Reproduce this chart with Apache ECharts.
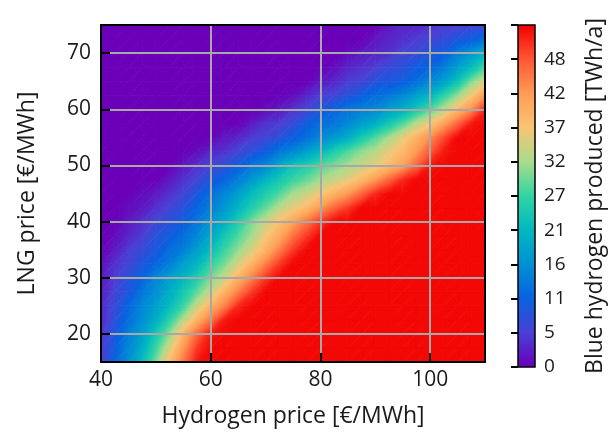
<!DOCTYPE html>
<html><head><meta charset="utf-8">
<script src="https://cdn.jsdelivr.net/npm/echarts@6/dist/echarts.min.js"></script>
<style>html,body{margin:0;padding:0;background:#fff}#c{width:610px;height:433px}</style>
</head><body><div id="c"></div>
<script>
// Grid nodes: hydrogen price [€/MWh]
const hydrogenPrice = [40,42.5,45,47.5,50,52.5,55,57.5,60,62.5,65,67.5,70,72.5,75,77.5,80,82.5,85,87.5,90,
  92.5,95,97.5,100,102.5,105,107.5,110];
// Grid nodes: LNG price [€/MWh]
const lngPrice = [15,17.5,20,22.5,25,27.5,30,32.5,35,37.5,40,42.5,45,47.5,50,52.5,55,57.5,60,62.5,65,67.5,70,72.5,75];
// Blue hydrogen produced [TWh/a], one row per LNG price (bottom to top), one value per hydrogen price
const lng15   = [5,11,16,22,30,39,46, 52,53,53,53,53,53,53, 53,53,53,53,53,53,53, 53,53,53,53,53,53,53,53];
const lng17_5 = [5,10,15,20,27,35,43, 50,53,53,53,53,53,53, 53,53,53,53,53,53,53, 53,53,53,53,53,53,53,53];
const lng20   = [4,9,14,18,24,31,40, 47,52,53,53,53,53,53, 53,53,53,53,53,53,53, 53,53,53,53,53,53,53,53];
const lng22_5 = [3,8,12,16,20,26,33, 40,46,52,53,53,53,53, 53,53,53,53,53,53,53, 53,53,53,53,53,53,53,53];
const lng25   = [3,7,11,15,18,22,27, 34,40,45,51,53,53,53, 53,53,53,53,53,53,53, 53,53,53,53,53,53,53,53];
const lng27_5 = [2,6,9,13,16,20,24, 29,34,40,45,50,53,53, 53,53,53,53,53,53,53, 53,53,53,53,53,53,53,53];
const lng30   = [2,5,8,11,15,18,21, 25,30,34,40,45,50,53, 53,53,53,53,53,53,53, 53,53,53,53,53,53,53,53];
const lng32_5 = [1,4,6,9,11,14,18, 21,26,30,35,40,45,50, 53,53,53,53,53,53,53, 53,53,53,53,53,53,53,53];
const lng35   = [0,2,5,7,9,12,14, 18,22,27,31,35,40,45, 50,53,53,53,53,53,53, 53,53,53,53,53,53,53,53];
const lng37_5 = [0,1,3,5,8,10,12, 15,19,24,28,32,37,41, 46,50,53,53,53,53,53, 53,53,53,53,53,53,53,53];
const lng40   = [0,0,2,4,6,8,10, 13,17,20,25,30,34,38, 42,46,50,53,53,53,53, 53,53,53,53,53,53,53,53];
const lng42_5 = [0,0,1,2,4,6,8, 11,14,17,21,25,29,33, 36,39,43,47,50,53,53, 53,53,53,53,53,53,53,53];
const lng45   = [0,0,0,1,2,4,6, 9,12,15,18,22,25,28, 32,34,37,40,43,47,51, 53,53,53,53,53,53,53,53];
const lng47_5 = [0,0,0,0,0,2,4, 6,9,11,14,17,21,24, 27,29,32,34,36,39,43, 47,51,53,53,53,53,53,53];
const lng50   = [0,0,0,0,0,0,2, 4,6,8,10,13,15,19, 23,25,28,30,32,34,36, 39,42,47,52,53,53,53,53];
const lng52_5 = [0,0,0,0,0,0,0, 1,3,4,6,8,10,13, 15,18,21,25,28,31,33, 36,39,43,48,52,53,53,53];
const lng55   = [0,0,0,0,0,0,0, 0,0,2,3,5,6,8, 10,12,15,17,20,24,28, 32,36,40,44,49,53,53,53];
const lng57_5 = [0,0,0,0,0,0,0, 0,0,0,0,2,4,5, 7,10,12,13,15,18,20, 24,28,33,37,42,47,52,53];
const lng60   = [0,0,0,0,0,0,0, 0,0,0,0,0,1,2, 4,6,9,11,13,14,15, 18,20,24,28,33,39,44,51];
const lng62_5 = [0,0,0,0,0,0,0, 0,0,0,0,0,0,0, 1,3,5,6,8,10,12, 13,15,18,21,26,31,37,43];
const lng65   = [0,0,0,0,0,0,0, 0,0,0,0,0,0,0, 0,0,2,3,5,6,8, 9,10,12,15,18,23,30,35];
const lng67_5 = [0,0,0,0,0,0,0, 0,0,0,0,0,0,0, 0,0,0,1,3,4,5, 7,8,10,11,14,18,22,27];
const lng70   = [0,0,0,0,0,0,0, 0,0,0,0,0,0,0, 0,0,0,0,1,2,3, 4,6,7,9,10,14,17,21];
const lng72_5 = [0,0,0,0,0,0,0, 0,0,0,0,0,0,0, 0,0,0,0,0,0,2, 3,4,5,6,7,9,10,12];
const lng75   = [0,0,0,0,0,0,0, 0,0,0,0,0,0,0, 0,0,0,0,0,0,0, 2,3,3,4,5,5,6,7];
const rows = [lng15,lng17_5,lng20,lng22_5,lng25,lng27_5,lng30,lng32_5,lng35,lng37_5,lng40,lng42_5,lng45,
  lng47_5,lng50,lng52_5,lng55,lng57_5,lng60,lng62_5,lng65,lng67_5,lng70,lng72_5,lng75];

const xTicks = [40,60,80,100];
const yTicks = [20,30,40,50,60,70];
const colorbarLabels = ['0','5','11','16','21','27','32','37','42','48'];
const colorMax = 53.5;
const palette = ['#6a00b8','#4a40d4','#0862e0','#0090d4','#00b8c0','#30d4a4','#a8dc8c','#f8c474','#ff9c54','#ff5636','#f20000'];

// colour scale (palette knots evenly spread over 0..colorMax)
const knots = palette.map((c, k) => k * colorMax / (palette.length - 1));
const rgb = palette.map(h => [parseInt(h.slice(1,3),16), parseInt(h.slice(3,5),16), parseInt(h.slice(5,7),16)]);
function colorOf(v) {
  v = Math.max(0, Math.min(colorMax, v));
  let k = Math.min(palette.length - 2, Math.floor(v / (colorMax / (palette.length - 1))));
  const t = (v - knots[k]) / (knots[k + 1] - knots[k]);
  const c = rgb[k].map((a, n) => Math.round(a + (rgb[k + 1][n] - a) * t));
  return 'rgb(' + c.join(',') + ')';
}
function triFill(P, V) {
  const vmin = Math.min(V[0], V[1], V[2]), vmax = Math.max(V[0], V[1], V[2]);
  if (vmax - vmin < 1e-6) return colorOf(vmin);
  const [x1, y1] = P[0], [x2, y2] = P[1], [x3, y3] = P[2];
  const d = (x2 - x1) * (y3 - y1) - (x3 - x1) * (y2 - y1);
  const a = ((V[1] - V[0]) * (y3 - y1) - (V[2] - V[0]) * (y2 - y1)) / d;
  const b = ((x2 - x1) * (V[2] - V[0]) - (x3 - x1) * (V[1] - V[0])) / d;
  const g2 = a * a + b * b;
  const m = V.indexOf(vmin);
  const S = P[m];
  const s = (vmax - vmin) / g2;
  const E = [S[0] + a * s, S[1] + b * s];
  const cs = [{offset: 0, color: colorOf(vmin)}];
  knots.forEach(kv => { if (kv > vmin && kv < vmax) cs.push({offset: (kv - vmin) / (vmax - vmin), color: colorOf(kv)}); });
  cs.push({offset: 1, color: colorOf(vmax)});
  return new echarts.graphic.LinearGradient(S[0], S[1], E[0], E[1], cs, true);
}

const cells = [];
for (let j = 0; j < lngPrice.length - 1; j++)
  for (let i = 0; i < hydrogenPrice.length - 1; i++)
    cells.push([hydrogenPrice[i], lngPrice[j], i, j]);

function renderCell(params, api) {
  const i = api.value(2), j = api.value(3);
  const p00 = api.coord([hydrogenPrice[i], lngPrice[j]]);
  const p10 = api.coord([hydrogenPrice[i + 1], lngPrice[j]]);
  const p01 = api.coord([hydrogenPrice[i], lngPrice[j + 1]]);
  const p11 = api.coord([hydrogenPrice[i + 1], lngPrice[j + 1]]);
  const v00 = rows[j][i], v10 = rows[j][i + 1], v01 = rows[j + 1][i], v11 = rows[j + 1][i + 1];
  let tris;
  if (Math.abs(v00 - v11) <= Math.abs(v10 - v01)) {
    tris = [[[p00, p10, p11], [v00, v10, v11]], [[p00, p11, p01], [v00, v11, v01]]];
  } else {
    tris = [[[p00, p10, p01], [v00, v10, v01]], [[p10, p11, p01], [v10, v11, v01]]];
  }
  return {type: 'group', children: tris.map(([P, V]) => {
    const f = triFill(P, V);
    return {type: 'polygon', shape: {points: P}, style: {fill: f, stroke: f, lineWidth: 0.9}};
  })};
}

const FONT = 'Open Sans';
const TXT = '#1a1a1a';
const chart = echarts.init(document.getElementById('c'), null, {renderer: 'canvas'});
const stops = palette.slice().reverse().map((c, i) => ({offset: i / (palette.length - 1), color: c}));

chart.setOption({
  animation: false,
  textStyle: {fontFamily: FONT},
  grid: [
    {left: 101, top: 25, width: 384, height: 342, show: true, backgroundColor: 'transparent', borderColor: '#000', borderWidth: 2, z: 20},
    {left: 518, top: 25, width: 17, height: 342, show: true, backgroundColor: 'transparent', borderColor: '#000', borderWidth: 1.5, z: 20}
  ],
  xAxis: [
    {type: 'value', gridIndex: 0, position: 'bottom', min: 40, max: 110, interval: 20, z: 10,
      axisLine: {show: false}, axisTick: {show: false},
      axisLabel: {customValues: xTicks, fontSize: 21, color: TXT, margin: 8, fontFamily: FONT},
      splitLine: {show: true, lineStyle: {color: '#a8a8a8', width: 2}},
      name: 'Hydrogen price [€/MWh]', nameLocation: 'middle', nameGap: 43,
      nameTextStyle: {fontSize: 23, color: TXT, fontFamily: FONT}},
    {type: 'value', gridIndex: 0, position: 'bottom', min: 40, max: 110, z: 15,
      axisLine: {show: false}, axisLabel: {show: false}, splitLine: {show: false},
      axisTick: {show: true, inside: true, length: 9, customValues: [60,80,100], lineStyle: {color: '#000', width: 2}}},
    {type: 'value', gridIndex: 1, show: false, min: 0, max: 1}
  ],
  yAxis: [
    {type: 'value', gridIndex: 0, position: 'left', min: 15, max: 75, z: 10,
      axisLine: {show: false}, axisTick: {show: false, customValues: yTicks},
      axisLabel: {customValues: yTicks, fontSize: 21, color: TXT, margin: 10, fontFamily: FONT},
      splitLine: {show: true, lineStyle: {color: '#a8a8a8', width: 2}},
      name: 'LNG price [€/MWh]', nameLocation: 'middle', nameGap: 62, nameRotate: 90,
      nameTextStyle: {fontSize: 23, color: TXT, fontFamily: FONT}},
    {type: 'value', gridIndex: 0, position: 'left', min: 15, max: 75, z: 15,
      axisLine: {show: false}, axisLabel: {show: false}, splitLine: {show: false},
      axisTick: {show: true, inside: true, length: 9, customValues: yTicks, lineStyle: {color: '#000', width: 2}}},
    {type: 'value', gridIndex: 1, position: 'right', min: 0, max: colorMax, interval: colorMax / 10, z: 25,
      axisLine: {show: false}, splitLine: {show: false},
      axisTick: {show: true, inside: true, length: 7, lineStyle: {color: '#000', width: 2}},
      axisLabel: {fontSize: 19, color: TXT, margin: 9, fontFamily: FONT,
        formatter: (v, i) => (i < colorbarLabels.length ? colorbarLabels[i] : '')},
      name: 'Blue hydrogen produced [TWh/a]', nameLocation: 'middle', nameGap: 49, nameRotate: 90,
      nameTextStyle: {fontSize: 23, color: TXT, fontFamily: FONT}}
  ],
  graphic: [{type: 'rect', z: 5, shape: {x: 518, y: 25, width: 17, height: 342},
    style: {fill: new echarts.graphic.LinearGradient(0, 0, 0, 1, stops)}}],
  series: [
    {type: 'custom', xAxisIndex: 0, yAxisIndex: 0, data: cells, encode: {x: 0, y: 1},
      renderItem: renderCell, silent: true, clip: true, progressive: 0},
    {type: 'line', xAxisIndex: 2, yAxisIndex: 2, data: [], silent: true}
  ]
});
</script>
</body></html>
